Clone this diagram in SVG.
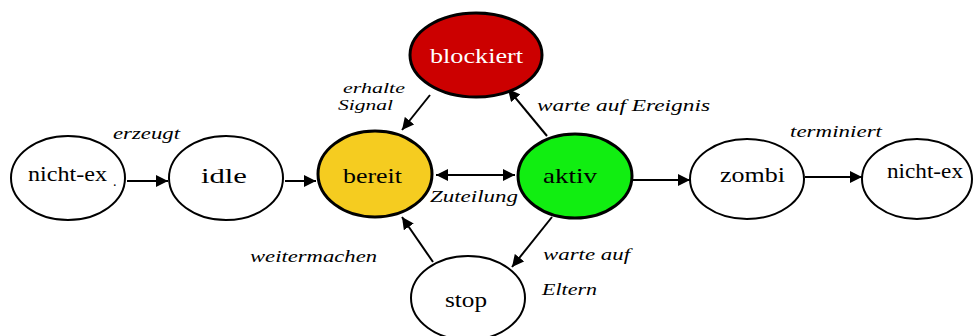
<svg xmlns="http://www.w3.org/2000/svg" width="973" height="336" viewBox="0 0 973 336" font-family="'Liberation Serif', Tinos, 'Times New Roman', 'DejaVu Serif', serif">
  <style>
    .node { stroke: #000; stroke-width: 2; fill: #fff; }
    .hl { stroke-width: 3; }
    .name { font-family: 'Liberation Serif', Tinos, 'Times New Roman', 'DejaVu Serif', serif; font-size: 22px; fill: #000; }
    .lbl { font-family: 'Liberation Serif', Tinos, 'Times New Roman', 'DejaVu Serif', serif; font-size: 17px; font-style: italic; fill: #000; }
    .small { font-size: 14px; }
    .edge { stroke: #000; stroke-width: 2; fill: none; }
  </style>
  <defs>
    <marker id="arrow" viewBox="0 0 12 12" refX="12" refY="6" markerWidth="12" markerHeight="12" markerUnits="userSpaceOnUse" orient="auto-start-reverse">
      <path d="M0,0 L12,6 L0,12 Z" fill="#000"/>
    </marker>
  </defs>
  <rect width="973" height="336" fill="#fff"/>

  <g id="connectors">
    <line class="edge" x1="127" y1="181" x2="168" y2="181" marker-end="url(#arrow)"/>
    <line class="edge" x1="285" y1="181" x2="316" y2="181" marker-end="url(#arrow)"/>
    <line class="edge" x1="436" y1="175" x2="515" y2="175" marker-start="url(#arrow)" marker-end="url(#arrow)"/>
    <line class="edge" x1="430" y1="95" x2="402" y2="130" marker-end="url(#arrow)"/>
    <line class="edge" x1="547" y1="136" x2="508" y2="89" marker-end="url(#arrow)"/>
    <line class="edge" x1="632" y1="180" x2="690" y2="180" marker-end="url(#arrow)"/>
    <line class="edge" x1="805" y1="177" x2="862" y2="177" marker-end="url(#arrow)"/>
    <line class="edge" x1="433" y1="262" x2="402" y2="217" marker-end="url(#arrow)"/>
    <line class="edge" x1="552" y1="217" x2="512" y2="267" marker-end="url(#arrow)"/>
  </g>

  <g id="labels">
    <text class="lbl" x="113" y="139" textLength="67" lengthAdjust="spacingAndGlyphs">erzeugt</text>
    <text class="lbl small" x="343" y="93" textLength="62" lengthAdjust="spacingAndGlyphs">erhalte</text>
    <text class="lbl small" x="338" y="110" textLength="55" lengthAdjust="spacingAndGlyphs">Signal</text>
    <text class="lbl" x="537" y="111" textLength="173" lengthAdjust="spacingAndGlyphs">warte auf Ereignis</text>
    <text class="lbl" x="430" y="202" textLength="88" lengthAdjust="spacingAndGlyphs">Zuteilung</text>
    <text class="lbl" x="790" y="137" textLength="92" lengthAdjust="spacingAndGlyphs">terminiert</text>
    <text class="lbl" x="250" y="262" textLength="127" lengthAdjust="spacingAndGlyphs">weitermachen</text>
    <text class="lbl" x="543" y="260" textLength="87" lengthAdjust="spacingAndGlyphs">warte auf</text>
    <text class="lbl" x="542" y="295" textLength="55" lengthAdjust="spacingAndGlyphs">Eltern</text>
  </g>

  <g id="nichtex1">
    <ellipse class="node" cx="68" cy="178" rx="57" ry="42"/>
    <text class="name" x="28" y="181" textLength="79" lengthAdjust="spacingAndGlyphs">nicht-ex</text>
    <text class="name" x="113" y="186" style="font-size:14px">.</text>
  </g>
  <g id="idle">
    <ellipse class="node" cx="226" cy="178" rx="57" ry="42"/>
    <text class="name" x="201" y="183" textLength="46" lengthAdjust="spacingAndGlyphs">idle</text>
  </g>
  <g id="bereit">
    <ellipse class="node hl" cx="375" cy="174" rx="57" ry="43" style="fill:#F5CC20"/>
    <text class="name" x="343" y="183" textLength="59" lengthAdjust="spacingAndGlyphs">bereit</text>
  </g>
  <g id="blockiert">
    <ellipse class="node hl" cx="476" cy="55" rx="66" ry="42" style="fill:#CC0000"/>
    <text class="name" x="430" y="63" textLength="93" lengthAdjust="spacingAndGlyphs" style="fill:#fff">blockiert</text>
  </g>
  <g id="aktiv">
    <ellipse class="node hl" cx="575" cy="176" rx="57" ry="42" style="fill:#11EE11"/>
    <text class="name" x="543" y="183" textLength="54" lengthAdjust="spacingAndGlyphs">aktiv</text>
  </g>
  <g id="zombi">
    <ellipse class="node" cx="747" cy="179" rx="57" ry="40"/>
    <text class="name" x="720" y="182" textLength="65" lengthAdjust="spacingAndGlyphs">zombi</text>
  </g>
  <g id="nichtex2">
    <ellipse class="node" cx="917" cy="179" rx="55" ry="40"/>
    <text class="name" x="887" y="178" textLength="76" lengthAdjust="spacingAndGlyphs">nicht-ex</text>
  </g>
  <g id="stop">
    <ellipse class="node" cx="468" cy="298" rx="57" ry="42"/>
    <text class="name" x="445" y="307" textLength="42" lengthAdjust="spacingAndGlyphs">stop</text>
  </g>
</svg>
